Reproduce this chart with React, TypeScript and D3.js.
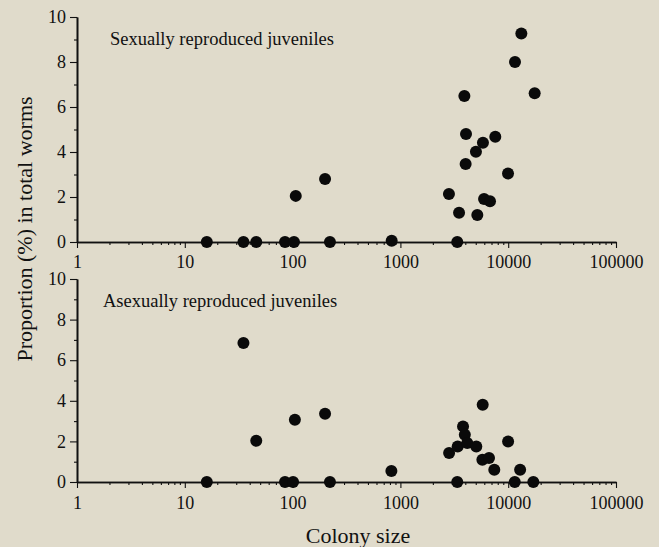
import React, { useEffect, useRef } from "react";
import * as d3 from "d3";

// colony sizes and proportions (%)
const sexualSize = [16, 35, 46, 85, 103, 107, 200, 222, 830, 2820, 3370, 3500, 3920, 4030, 4060, 5020, 5170, 5830, 5970, 6780, 7590, 9960, 11560, 13240, 17600];
const sexualPct = [0, 0, 0, 0, 0, 2.05, 2.8, 0, 0.06, 2.13, 0, 1.3, 6.49, 3.47, 4.8, 4.01, 1.2, 4.41, 1.91, 1.81, 4.68, 3.04, 8.0, 9.27, 6.61];

const asexualSize = [16, 35, 46, 85, 101, 105, 200, 222, 825, 2830, 3370, 3400, 3810, 3960, 4170, 5060, 5760, 5800, 6640, 7430, 9980, 11500, 12900, 17100];
const asexualPct = [0, 6.85, 2.03, 0, 0, 3.07, 3.36, 0, 0.54, 1.43, 0, 1.75, 2.74, 2.33, 1.92, 1.75, 1.1, 3.8, 1.18, 0.6, 2.0, 0, 0.6, 0];

const xMajor = [1, 10, 100, 1000, 10000, 100000];
const yMajor = [0, 2, 4, 6, 8, 10];
const yMinor = [1, 3, 5, 7, 9];

const panels = [
  { label: "Sexually reproduced juveniles", sizes: sexualSize, pct: sexualPct, top: 17, bottom: 242, labelX: 110, labelY: 45, pad: 7 },
  { label: "Asexually reproduced juveniles", sizes: asexualSize, pct: asexualPct, top: 279, bottom: 482, labelX: 103, labelY: 307, pad: 8 },
];

const W = 659;
const H = 547;
const FONT = "'Liberation Serif', 'Times New Roman', serif";

const App = () => {
  const svgRef = useRef<SVGSVGElement>(null);

  useEffect(() => {
    const svg = d3.select(svgRef.current);
    svg.selectAll("*").remove();

    svg.append("rect").attr("width", W).attr("height", H).attr("fill", "#e0dbcb");

    const x = d3.scaleLog().domain([1, 100000]).range([77, 616]);
    const xMinor: number[] = [];
    for (let k = 0; k < 5; k++) for (let m = 2; m <= 9; m++) xMinor.push(m * Math.pow(10, k));

    panels.forEach((p) => {
      const y = d3.scaleLinear().domain([0, 10]).range([p.bottom, p.top]);
      const g = svg.append("g");

      // x axis
      const xa = g.append("g").attr("transform", `translate(0,${p.bottom})`);
      xa.call(d3.axisBottom(x).tickValues(xMajor).tickSize(6).tickSizeOuter(0).tickPadding(p.pad).tickFormat(d3.format("d") as any));
      xa.append("g").call(d3.axisBottom(x).tickValues(xMinor).tickSize(3).tickSizeOuter(0).tickFormat(() => ""));
      xa.selectAll(".domain").attr("stroke", "#111").attr("stroke-width", 1.6);
      xa.selectAll("line").attr("stroke", "#111").attr("stroke-width", 1.1);
      xa.selectAll("text").attr("font-family", FONT).attr("font-size", 18).attr("fill", "#111");

      // y axis
      const ya = g.append("g").attr("transform", `translate(77,0)`);
      ya.call(d3.axisLeft(y).tickValues(yMajor).tickSize(7).tickSizeOuter(0).tickPadding(4));
      ya.append("g").call(d3.axisLeft(y).tickValues(yMinor).tickSize(3).tickSizeOuter(0).tickFormat(() => ""));
      ya.selectAll(".domain").attr("stroke", "#111").attr("stroke-width", 1.6);
      ya.selectAll("line").attr("stroke", "#111").attr("stroke-width", 1.1);
      ya.selectAll("text").attr("font-family", FONT).attr("font-size", 18).attr("fill", "#111");

      g.append("text")
        .attr("x", p.labelX)
        .attr("y", p.labelY)
        .attr("font-family", FONT)
        .attr("font-size", 18.5)
        .attr("fill", "#111")
        .text(p.label);

      g.selectAll("circle.dot")
        .data(p.sizes)
        .enter()
        .append("circle")
        .attr("class", "dot")
        .attr("cx", (d) => x(d))
        .attr("cy", (_, i) => y(p.pct[i]))
        .attr("r", 6)
        .attr("fill", "#0a0a0a");
    });

    svg.append("text")
      .attr("x", 358)
      .attr("y", 543)
      .attr("text-anchor", "middle")
      .attr("font-family", FONT)
      .attr("font-size", 22)
      .attr("fill", "#111")
      .text("Colony size");

    svg.append("text")
      .attr("transform", "translate(32,229) rotate(-90)")
      .attr("text-anchor", "middle")
      .attr("font-family", FONT)
      .attr("font-size", 22)
      .attr("fill", "#111")
      .text("Proportion (%) in total worms");
  }, []);

  return <svg ref={svgRef} width={W} height={H} style={{ position: "absolute", left: 0, top: 0 }} />;
};

export default App;
